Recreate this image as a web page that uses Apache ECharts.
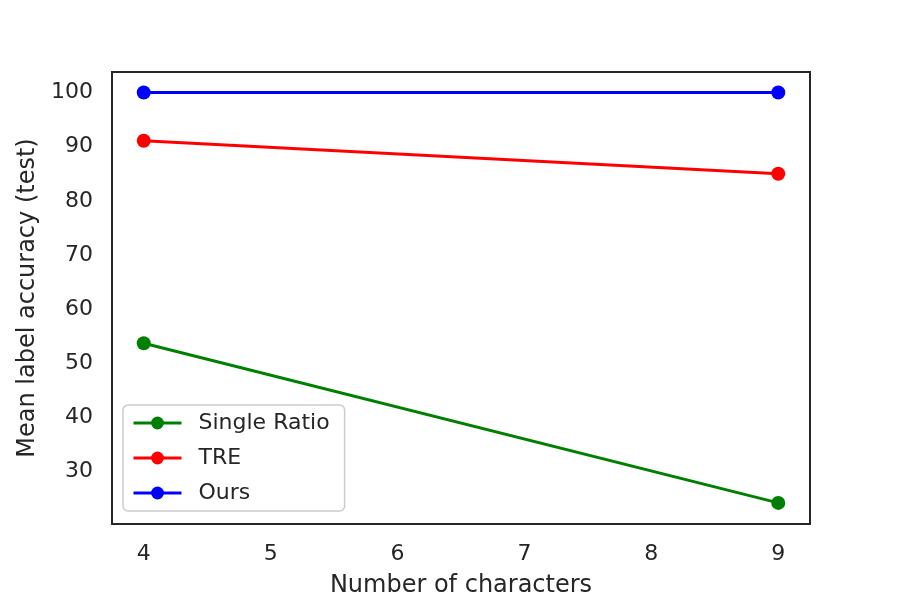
<!DOCTYPE html>
<html>
<head>
<meta charset="utf-8">
<script src="https://cdn.jsdelivr.net/npm/echarts@6/dist/echarts.min.js"></script>
<style>
  html, body { margin: 0; padding: 0; background: #fff; }
  #chart { width: 900px; height: 600px; }
</style>
</head>
<body>
<div id="chart"></div>
<script>
// 数据
var characters = [4, 9];
var singleRatio = [53.7, 24.2];
var tre = [91.1, 85.0];
var ours = [100, 100];

// 刻度
var xTicks = [4, 5, 6, 7, 8, 9];
var yTicks = [30, 40, 50, 60, 70, 80, 90, 100];

var textColor = '#262626';
var font = 'DejaVu Sans';

function pairs(xs, ys) {
    var out = [];
    for (var i = 0; i < xs.length; i++) {
        out.push([xs[i], ys[i]]);
    }
    return out;
}

function makeSeries(name, values, color) {
    return {
        name: name,
        type: 'line',
        data: pairs(characters, values),
        symbol: 'circle',
        symbolSize: 14,
        lineStyle: { color: color, width: 3 },
        itemStyle: { color: color },
        animation: false
    };
}

var option = {
    backgroundColor: '#fff',
    textStyle: { fontFamily: font, color: textColor },
    grid: {
        left: 112, right: 90, top: 72, bottom: 76,
        outerBoundsMode: 'none',
        containLabel: false,
        show: true,
        borderColor: '#262626',
        borderWidth: 2,
        backgroundColor: '#fff'
    },
    legend: {
        orient: 'vertical',
        left: 123,
        top: 405,
        padding: [7, 15, 7, 9],
        itemGap: 13,
        itemWidth: 48,
        itemHeight: 16,
        borderColor: '#cccccc',
        borderWidth: 1.5,
        borderRadius: 5,
        backgroundColor: '#fff',
        lineStyle: { width: 3 },
        textStyle: { fontFamily: font, fontSize: 22, color: textColor, padding: [0, 0, 0, 12] },
        data: ['Single Ratio', 'TRE', 'Ours']
    },
    xAxis: {
        type: 'value',
        min: 3.75,
        max: 9.25,
        name: 'Number of characters',
        nameLocation: 'middle',
        nameGap: 50,
        nameTextStyle: { fontFamily: font, fontSize: 24, color: textColor },
        axisLine: { show: false },
        axisTick: { show: false },
        splitLine: { show: false },
        axisLabel: {
            customValues: xTicks,
            margin: 19,
            fontFamily: font,
            fontSize: 22,
            color: textColor
        }
    },
    yAxis: {
        type: 'value',
        min: 20.3,
        max: 103.8,
        name: 'Mean label accuracy (test)',
        nameLocation: 'middle',
        nameGap: 72,
        nameTextStyle: { fontFamily: font, fontSize: 24, color: textColor },
        axisLine: { show: false },
        axisTick: { show: false },
        splitLine: { show: false },
        axisLabel: {
            customValues: yTicks,
            margin: 19,
            fontFamily: font,
            fontSize: 22,
            color: textColor
        }
    },
    series: [
        makeSeries('Single Ratio', singleRatio, '#008000'),
        makeSeries('TRE', tre, '#ff0000'),
        makeSeries('Ours', ours, '#0000ff')
    ]
};

var chart = echarts.init(document.getElementById('chart'));
chart.setOption(option);
</script>
</body>
</html>
